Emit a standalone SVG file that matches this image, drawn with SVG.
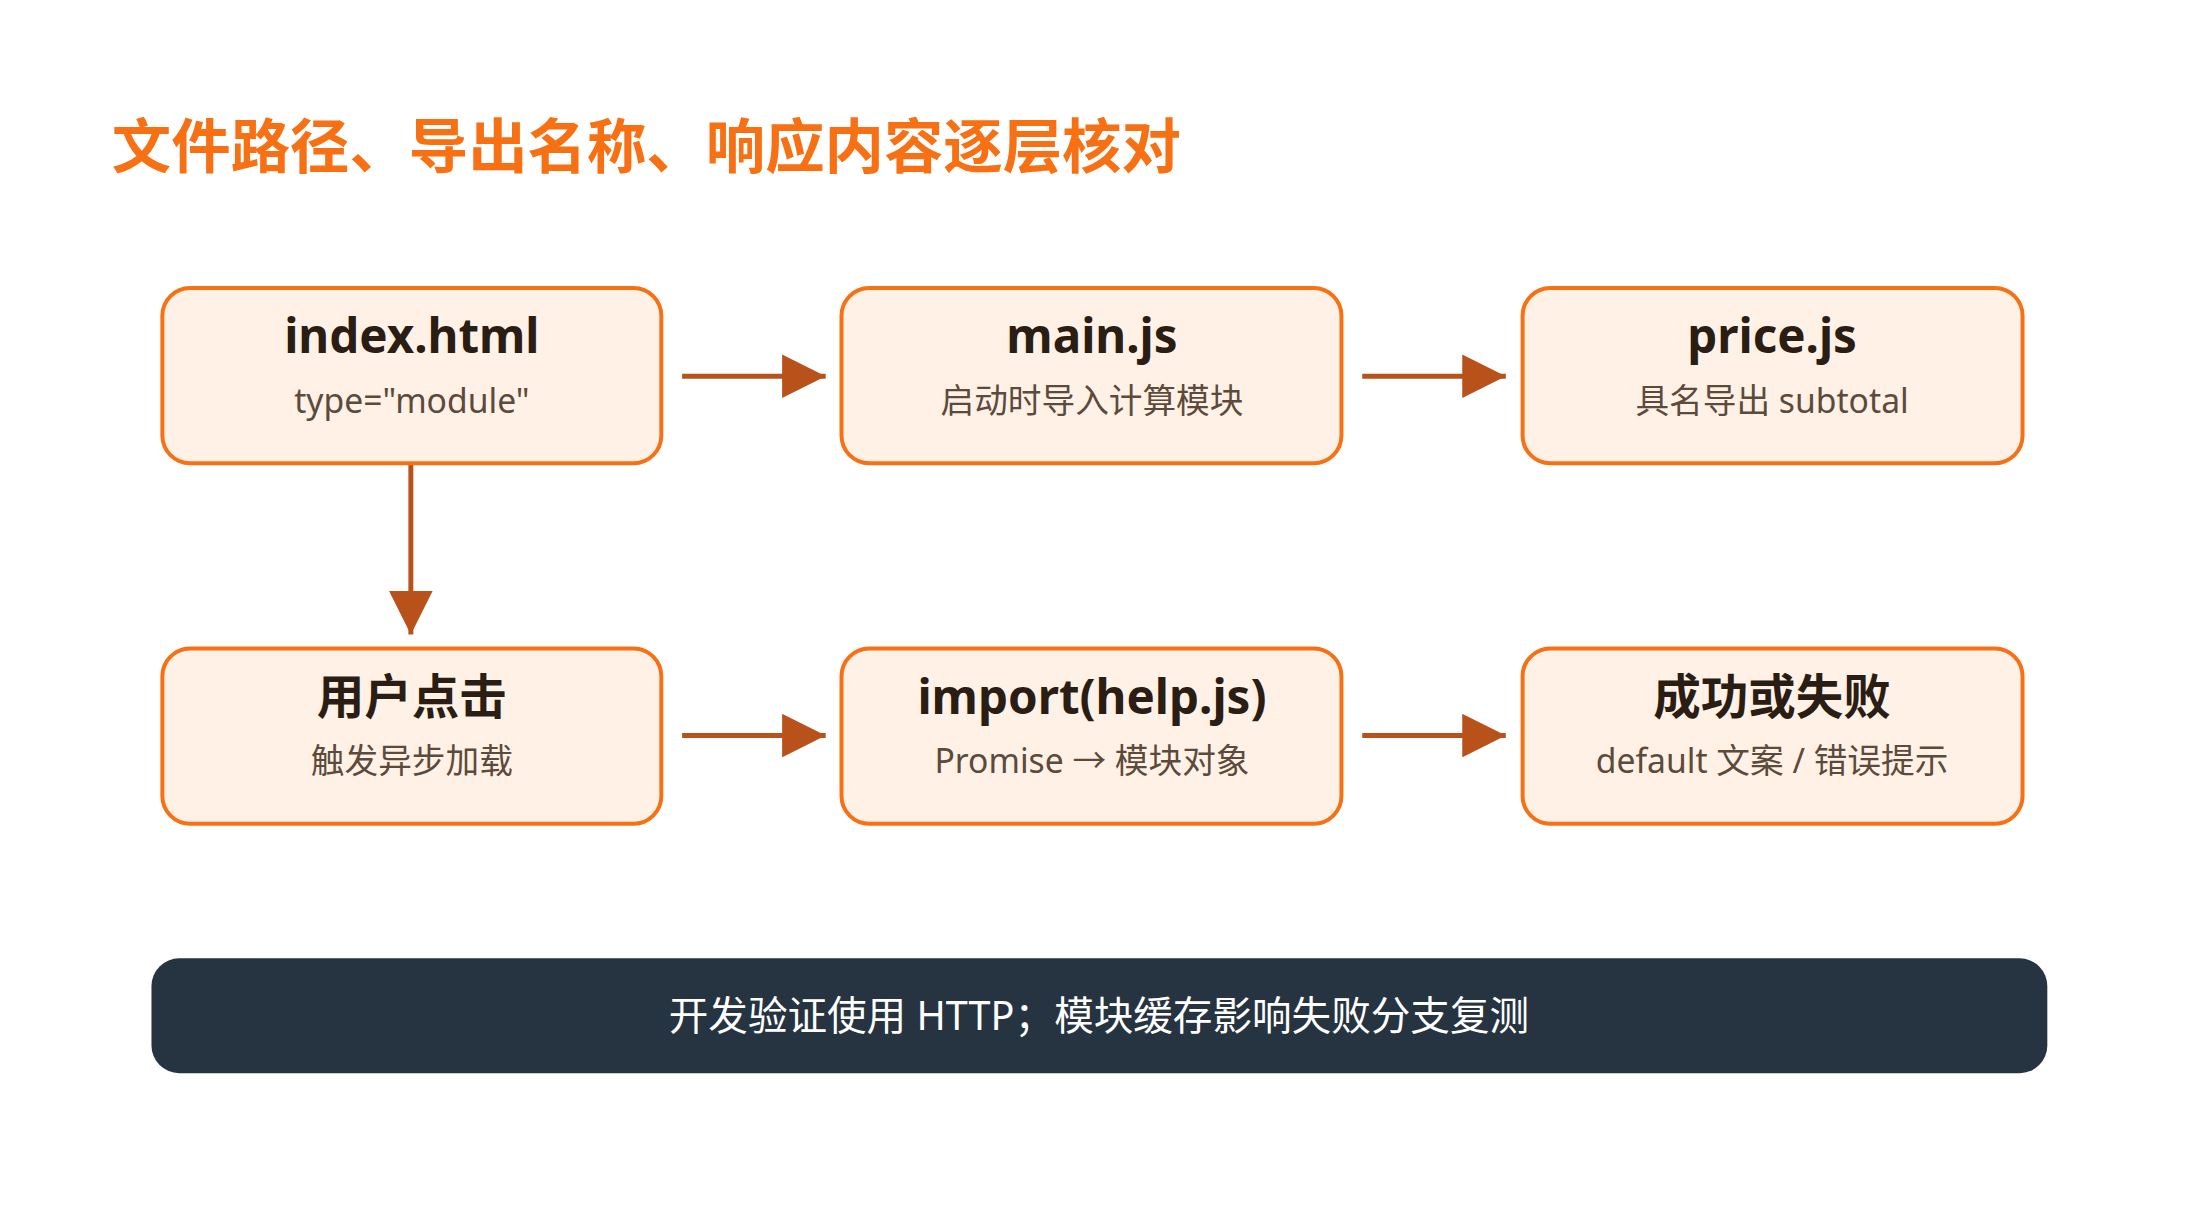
<svg xmlns="http://www.w3.org/2000/svg" width="2200" height="1208" viewBox="0 0 2200 1208">
<style>
.box{fill:#fff1e5;stroke:#f77114;stroke-width:4}
.t{font-family:"Noto Sans","Noto Sans CJK SC",sans-serif;font-weight:700;font-size:48px;fill:#2a1d14;text-anchor:middle}
.s{font-family:"Noto Sans","Noto Sans CJK SC",sans-serif;font-size:34px;fill:#5c4a3c;text-anchor:middle}
.c{stroke:#b8521a;stroke-width:5;fill:none}
</style>
<defs>
<marker id="ah" viewBox="0 0 10 10" refX="10" refY="5" markerWidth="44" markerHeight="44" markerUnits="userSpaceOnUse" orient="auto"><path d="M0,0L10,5L0,10z" fill="#b8521a"/></marker></defs>
<rect width="2200" height="1208" fill="#fff"/>
<g transform="scale(0.99)">
<text x="113" y="170" font-family="Noto Sans CJK SC,sans-serif" font-weight="700" font-size="60" fill="#f77114">文件路径、导出名称、响应内容逐层核对</text>
<g id="connectors">
<line class="c" x1="689" y1="380" x2="834" y2="380" marker-end="url(#ah)"/>
<line class="c" x1="1376" y1="380" x2="1521" y2="380" marker-end="url(#ah)"/>
<line class="c" x1="415" y1="469" x2="415" y2="641" marker-end="url(#ah)"/>
<line class="c" x1="689" y1="743" x2="834" y2="743" marker-end="url(#ah)"/>
<line class="c" x1="1376" y1="743" x2="1521" y2="743" marker-end="url(#ah)"/>
</g>
<g id="n1"><rect class="box" x="164" y="291" width="504" height="177" rx="28"/><text class="t" x="416" y="357">index.html</text><text class="s" x="416" y="417">type="module"</text></g>
<g id="n2"><rect class="box" x="850" y="291" width="505" height="177" rx="28"/><text class="t" x="1103" y="357">main.js</text><text class="s" x="1103" y="417">启动时导入计算模块</text></g>
<g id="n3"><rect class="box" x="1538" y="291" width="505" height="177" rx="28"/><text class="t" x="1790" y="357">price.js</text><text class="s" x="1790" y="417">具名导出 subtotal</text></g>
<g id="n4"><rect class="box" x="164" y="655" width="504" height="177" rx="28"/><text class="t" x="416" y="721">用户点击</text><text class="s" x="416" y="781">触发异步加载</text></g>
<g id="n5"><rect class="box" x="850" y="655" width="505" height="177" rx="28"/><text class="t" x="1103" y="721">import(help.js)</text><text class="s" x="1103" y="781">Promise → 模块对象</text></g>
<g id="n6"><rect class="box" x="1538" y="655" width="505" height="177" rx="28"/><text class="t" x="1790" y="721">成功或失败</text><text class="s" x="1790" y="781">default 文案 / 错误提示</text></g>
<g id="note"><rect x="153" y="968" width="1915" height="116" rx="28" fill="#263341"/><text x="1110" y="1040" font-family="Noto Sans,Noto Sans CJK SC,sans-serif" font-size="40" fill="#fff" text-anchor="middle">开发验证使用 HTTP；模块缓存影响失败分支复测</text></g>
</g>
</svg>
